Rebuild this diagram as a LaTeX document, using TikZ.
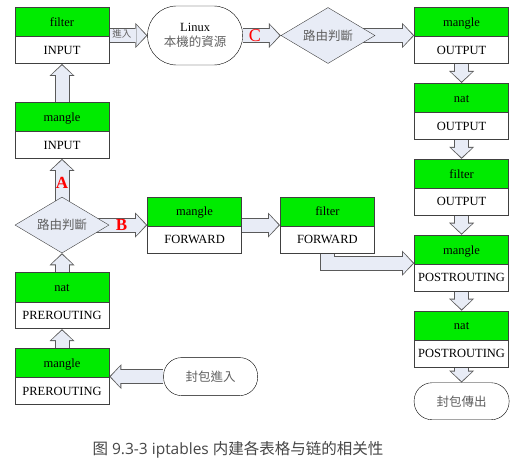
\documentclass[tikz,border=0pt]{standalone}
\usepackage{fontspec}
\setmainfont{Liberation Serif}
\newfontfamily\cjk{Noto Sans CJK TC}
\newfontfamily\capcjk{Noto Sans CJK SC}
\newfontfamily\capfont{Open Sans}
\usetikzlibrary{positioning, arrows.meta, shapes.geometric, shapes.multipart, backgrounds}

\definecolor{tabgreen}{RGB}{0,235,0}
\definecolor{boxline}{RGB}{64,64,64}
\definecolor{flowfill}{RGB}{232,236,246}
\definecolor{flowedge}{RGB}{90,90,90}
\definecolor{cjkgray}{RGB}{96,96,96}
\definecolor{capgray}{RGB}{70,70,70}

\newcommand{\tblparts}[2]{\rule[-10pt]{0pt}{28.5pt}#1\nodepart{two}\rule[-9pt]{0pt}{26pt}#2}

\begin{document}
\begin{tikzpicture}[
    x=1pt, y=-1pt,
    node distance=19pt and 38pt,
    every node/.style={font=\fontsize{12.5}{15}\selectfont},
    tblbox/.style={rectangle split, rectangle split parts=2, draw=boxline, line width=0.8pt, rectangle split part fill={tabgreen,white}, text width=90pt, inner xsep=2pt, inner ysep=0pt, align=center},
    route/.style={diamond, aspect=1.68, draw=boxline, fill=flowfill, minimum width=94pt, minimum height=56pt, inner sep=0pt, text=cjkgray, font=\fontsize{12.5}{15}\selectfont\cjk},
    host/.style={rectangle, draw=black, rounded corners=29pt, minimum width=95pt, minimum height=59pt, align=center},
    pkt/.style={rectangle, draw=black, rounded corners=18pt, minimum width=94pt, minimum height=38pt, text=cjkgray, font=\fontsize{12.5}{15}\selectfont\cjk},
    flow/.style={line width=15pt, draw=flowedge, line join=miter, -{Triangle[length=12pt, width=25pt, line width=0pt]},
        postaction={draw=flowfill, line width=13pt, shorten >=1.4pt, -{Triangle[length=9.6pt, width=21pt, line width=0pt]}}},
    letter/.style={text=red, font=\fontsize{17}{17}\selectfont\bfseries},
    figcap/.style={text=capgray, font=\fontsize{15.5}{18}\selectfont\capfont}
]
\useasboundingbox (0,0) rectangle (532,462);

% Nodes
\node[tblbox] (fin) at (62,35.5) {\tblparts{filter}{INPUT}};
\node[host, right=of fin] (linux) {Linux\\{\cjk\color{cjkgray}本機的資源}};
\node[route, right=of linux] (route2) {路由判斷};
\node[tblbox, right=39pt of route2] (mout) {\tblparts{mangle}{OUTPUT}};

\node[tblbox, below=of mout] (nout) {\tblparts{nat}{OUTPUT}};
\node[tblbox, below=of nout] (fout) {\tblparts{filter}{OUTPUT}};
\node[tblbox, below=of fout] (mpost) {\tblparts{mangle}{POSTROUTING}};
\node[tblbox, below=of mpost] (npost) {\tblparts{nat}{POSTROUTING}};
\node[pkt, below=15pt of npost, minimum width=95pt, minimum height=37pt] (pout) {封包傳出};

\node[tblbox, below=38pt of fin] (min) {\tblparts{mangle}{INPUT}};
\node[route, below=38pt of min] (route1) {路由判斷};
\node[tblbox, below=of route1] (npre) {\tblparts{nat}{PREROUTING}};
\node[tblbox, below=of npre] (mpre) {\tblparts{mangle}{PREROUTING}};
\node[pkt, right=54pt of mpre] (pin) {封包進入};

\node[tblbox, right=of route1] (mfwd) {\tblparts{mangle}{FORWARD}};
\node[tblbox, right=of mfwd] (ffwd) {\tblparts{filter}{FORWARD}};

% Edges
\begin{scope}[on background layer]
\draw[flow] (pin) -- (mpre);
\draw[flow] (mpre) -- (npre);
\draw[flow] (npre) -- (route1);
\draw[flow] (route1.center) -- node[letter, pos=0.63] (la) {A} (min);
\draw[flow] (min) -- (fin);
\draw[flow] (fin) -- node[pos=0.33, yshift=2pt, text=cjkgray, font=\fontsize{9.5}{10}\selectfont\cjk] (lin) {進入} (linux);
\draw[flow] (linux) -- node[letter, pos=0.32, font=\fontsize{18}{18}\selectfont] (lc) {C} (route2);
\draw[flow] (route2.center) -- (mout);
\draw[flow] (mout) -- (nout);
\draw[flow] (nout) -- (fout);
\draw[flow] (fout) -- (mpost);
\draw[flow] (mpost) -- (npost);
\draw[flow] (npost) -- (pout);
\draw[flow] (route1.center) -- node[letter, pos=0.7] (lb) {B} (mfwd);
\draw[flow] (mfwd) -- (ffwd);
\draw[flow] (ffwd.south) |- (mpost.west);
\end{scope}

% Caption
\node[figcap] (cap) at (238,450) {{\capcjk 图} 9.3-3 iptables {\capcjk 内建各表格与链的相关性}};

\end{tikzpicture}
\end{document}
